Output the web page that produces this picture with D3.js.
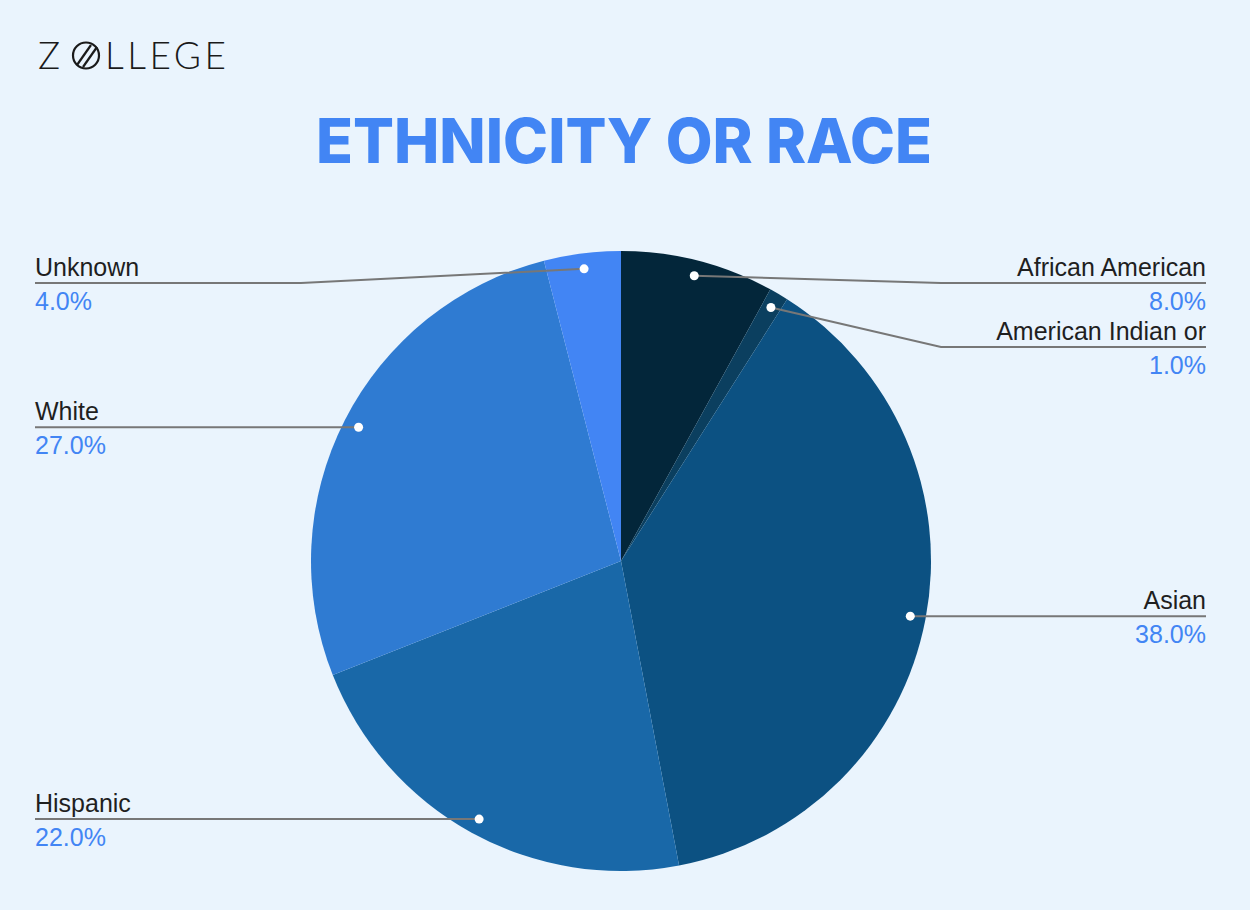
<!DOCTYPE html>
<html>
<head>
<meta charset="utf-8">
<script src="https://cdn.jsdelivr.net/npm/d3@7"></script>
<style>
  html, body { margin: 0; padding: 0; background: #eaf4fd; }
  svg { display: block; }
</style>
</head>
<body>
<div id="chart"></div>
<script>
// chart data
var categories = ["African American", "American Indian or", "Asian", "Hispanic", "White", "Unknown"];
var values = [8.0, 1.0, 38.0, 22.0, 27.0, 4.0];
var colors = ["#03263a", "#0b3f5f", "#0c5182", "#1968a8", "#2f7bd2", "#4285f4"];

var width = 1250, height = 910;
var cx = 621, cy = 561, radius = 310;

var svg = d3.select("#chart").append("svg")
    .attr("width", width)
    .attr("height", height);

svg.append("rect")
    .attr("width", width)
    .attr("height", height)
    .attr("fill", "#eaf4fd");

// logo
var logo = svg.append("g").attr("transform", "translate(38,69)");
logo.append("text")
    .attr("x", 0).attr("y", 0)
    .attr("font-family", "Lato, 'Open Sans', sans-serif")
    .attr("font-weight", 300)
    .attr("font-size", 37)
    .attr("fill", "#1a1a1a")
    .text("Z");
logo.append("circle")
    .attr("cx", 48).attr("cy", -13.5).attr("r", 13)
    .attr("fill", "none").attr("stroke", "#1a1a1a").attr("stroke-width", 2.2);
logo.append("line")
    .attr("x1", 39).attr("y1", -4).attr("x2", 53).attr("y2", -24)
    .attr("stroke", "#1a1a1a").attr("stroke-width", 2.2);
logo.append("line")
    .attr("x1", 45).attr("y1", -2).attr("x2", 59).attr("y2", -22)
    .attr("stroke", "#1a1a1a").attr("stroke-width", 2.2);
logo.append("text")
    .attr("x", 67).attr("y", 0)
    .attr("font-family", "Lato, 'Open Sans', sans-serif")
    .attr("font-weight", 300)
    .attr("font-size", 37)
    .attr("fill", "#1a1a1a")
    .attr("textLength", 121)
    .text("LLEGE");

// title
svg.append("text")
    .attr("x", 624)
    .attr("y", 163)
    .attr("text-anchor", "middle")
    .attr("font-family", "Inter, 'Open Sans', sans-serif")
    .attr("font-weight", 800)
    .attr("font-size", 62)
    .attr("fill", "#4285f4")
    .attr("textLength", 616)
    .attr("lengthAdjust", "spacingAndGlyphs")
    .text("ETHNICITY OR RACE");

var pie = d3.pie().sort(null).value(function(d){ return d; });
var arcs = pie(values);

var arc = d3.arc().innerRadius(0).outerRadius(radius);
var dotArc = d3.arc().innerRadius(radius * 0.95).outerRadius(radius * 0.95);

var g = svg.append("g").attr("transform", "translate(" + cx + "," + cy + ")");

g.selectAll("path.slice")
    .data(arcs)
    .enter()
    .append("path")
    .attr("class", "slice")
    .attr("d", arc)
    .attr("fill", function(d, i){ return colors[i]; });

// label layout: each side keeps labels apart by a minimum gap
var labels = arcs.map(function(d, i){
  var p = dotArc.centroid(d);
  var mid = (d.startAngle + d.endAngle) / 2;
  return {
    i: i,
    px: p[0] + cx,
    py: p[1] + cy,
    right: mid < Math.PI,
    y: p[1] + cy
  };
});

var minY = 283, gap = 64;
[true, false].forEach(function(side){
  var list = labels.filter(function(l){ return l.right === side; })
      .sort(function(a, b){ return a.py - b.py; });
  var prev = -Infinity;
  list.forEach(function(l){
    l.y = Math.max(l.py, minY, prev + gap);
    prev = l.y;
  });
});

var lab = svg.append("g");

labels.forEach(function(l){
  var bendX = l.right ? cx + radius + 10 : cx - radius - 10;
  var endX = l.right ? 1206 : 35;
  var pts = [[l.px, l.py]];
  if (Math.abs(l.y - l.py) > 0.5) pts.push([bendX, l.y]);
  pts.push([endX, l.y]);

  lab.append("path")
      .attr("d", d3.line()(pts))
      .attr("fill", "none")
      .attr("stroke", "#777777")
      .attr("stroke-width", 2);

  lab.append("circle")
      .attr("cx", l.px).attr("cy", l.py).attr("r", 4.5)
      .attr("fill", "#ffffff");

  lab.append("text")
      .attr("x", endX)
      .attr("y", l.y - 7)
      .attr("text-anchor", l.right ? "end" : "start")
      .attr("font-family", "'Liberation Sans', Arial, sans-serif")
      .attr("font-size", 25)
      .attr("fill", "#1f1f1f")
      .text(categories[l.i]);

  lab.append("text")
      .attr("x", endX)
      .attr("y", l.y + 27)
      .attr("text-anchor", l.right ? "end" : "start")
      .attr("font-family", "'Liberation Sans', Arial, sans-serif")
      .attr("font-size", 25)
      .attr("fill", "#4285f4")
      .text(values[l.i].toFixed(1) + "%");
});
</script>
</body>
</html>
